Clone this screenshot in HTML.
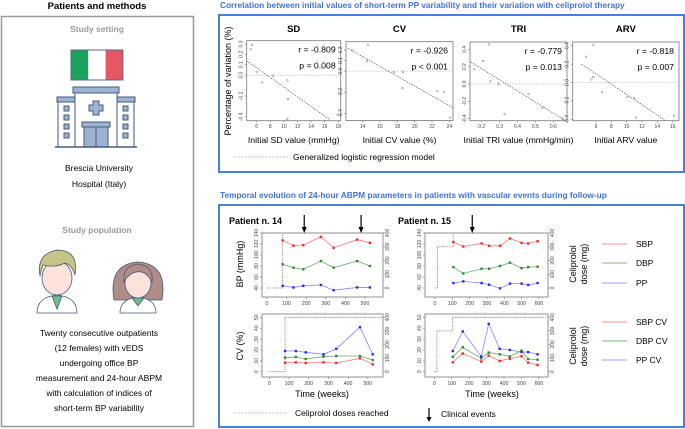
<!DOCTYPE html>
<html><head><meta charset="utf-8"><style>
html,body{margin:0;padding:0;background:#fff}
svg{display:block;font-family:"Liberation Sans",sans-serif}
</style></head><body>
<svg id="chart" width="685" height="429" viewBox="0 0 685 429">
<!-- LEFT PANEL -->
<g>
<text x="97" y="9" font-size="9.5" font-weight="bold" text-anchor="middle">Patients and methods</text>
<rect x="1.5" y="16.5" width="192" height="410" fill="none" stroke="#999" stroke-width="1.5"/>
<text x="97" y="32" font-size="8.5" font-weight="bold" fill="#999" text-anchor="middle">Study setting</text>
<g>
<rect x="71" y="50" width="17.3" height="30" fill="#1aa35e"/><rect x="88.3" y="50" width="17.3" height="30" fill="#fff"/><rect x="105.6" y="50" width="17.3" height="30" fill="#e85565"/>
<rect x="71" y="50" width="51.9" height="30" fill="none" stroke="#556a85" stroke-width="1"/></g>
<g stroke="#475a78" stroke-width="1">
<rect x="73" y="87" width="46" height="6" fill="#9cb3d4"/>
<rect x="57" y="97" width="78" height="5" fill="#9cb3d4"/>
<rect x="58" y="102" width="17" height="45" fill="#fff"/><rect x="117" y="102" width="17" height="45" fill="#fff"/>
<rect x="75" y="93" width="42" height="54" fill="#fff"/>
<path d="M93 101h6v4h4v6h-4v4h-6v-4h-4v-6h4z" fill="#9cb3d4"/>
<rect x="82" y="122" width="28" height="5" fill="#9cb3d4"/><rect x="84" y="127" width="24" height="20" fill="#9cb3d4"/><line x1="96" y1="127" x2="96" y2="147"/>
<rect x="64" y="106" width="5" height="5" fill="#9cb3d4"/><rect x="64" y="115" width="5" height="5" fill="#9cb3d4"/><rect x="64" y="124" width="5" height="5" fill="#9cb3d4"/><rect x="64" y="133" width="5" height="5" fill="#9cb3d4"/>
<rect x="123" y="106" width="5" height="5" fill="#9cb3d4"/><rect x="123" y="115" width="5" height="5" fill="#9cb3d4"/><rect x="123" y="124" width="5" height="5" fill="#9cb3d4"/><rect x="123" y="133" width="5" height="5" fill="#9cb3d4"/>
<line x1="55" y1="147" x2="137" y2="147" stroke-width="1.5"/></g>
<text x="99" y="171" font-size="8.5" text-anchor="middle">Brescia University</text>
<text x="99" y="187" font-size="8.5" text-anchor="middle">Hospital (Italy)</text>
<text x="97" y="233" font-size="8.5" font-weight="bold" fill="#999" text-anchor="middle">Study population</text>
<g stroke="#475a78" stroke-width="0.8">
<path d="M37 313 q0-16 20-18 q20 2 20 18z" fill="#fff"/><path d="M52 296 l5 13 l5-13z" fill="#6fbf8e"/>
<ellipse cx="57" cy="278" rx="15" ry="17" fill="#fbe3dc"/>
<path d="M40 276 q-4-22 17-26 q22 0 18 25 q-3-10-10-12 q-10 5-22 2 q-2 5-3 11z" fill="#c6c487"/></g>
<g stroke="#475a78" stroke-width="0.8">
<path d="M114 300 q-6-36 24-38 q30 2 24 38z" fill="#b08c86"/>
<path d="M120 313 q0-14 18-16 q18 2 18 16z" fill="#fff"/><path d="M132 298 l6 8 l6-8z" fill="#6fbf8e"/>
<ellipse cx="138" cy="283" rx="13" ry="15" fill="#fbe3dc"/>
<path d="M124 282 q-2-16 14-18 q16 2 14 18 q-6-12-16-10 q-8 2-12 10z" fill="#b08c86"/></g>
<g font-size="8.5" text-anchor="middle">
<text x="99" y="336">Twenty consecutive outpatients</text>
<text x="99" y="351">(12 females)  with vEDS</text>
<text x="99" y="366">undergoing office BP</text>
<text x="99" y="381">measurement and 24-hour ABPM</text>
<text x="99" y="396">with calculation of indices of</text>
<text x="99" y="411">short-term BP variability</text></g>
</g>
<!-- TOP RIGHT -->
<text x="220" y="8" font-size="8.3" font-weight="bold" fill="#3f74d4">Correlation between initial values of short-term PP variability and their variation with celiprolol therapy</text>
<rect x="219" y="15" width="465" height="157" fill="none" stroke="#4a7fd8" stroke-width="2"/>
<text transform="translate(231,81) rotate(-90)" font-size="9" text-anchor="middle">Percentage of variation (%)</text>
<line x1="234" y1="157" x2="288" y2="157" stroke="#aaa" stroke-width="0.8" stroke-dasharray="2,1.5"/>
<text x="293" y="160" font-size="8.5">Generalized logistic regression model</text>
<!-- BOTTOM RIGHT -->
<text x="220" y="198" font-size="8.3" font-weight="bold" fill="#3f74d4">Temporal evolution of 24-hour ABPM parameters in patients with vascular events during follow-up</text>
<rect x="219" y="205" width="465" height="222" fill="none" stroke="#4a7fd8" stroke-width="2"/>
<text x="229" y="224" font-size="9" font-weight="bold">Patient n. 14</text>
<text x="398" y="224" font-size="9" font-weight="bold">Patient n. 15</text>
<text transform="translate(243,264) rotate(-90)" font-size="9" text-anchor="middle">BP (mmHg)</text>
<text transform="translate(243,346) rotate(-90)" font-size="9" text-anchor="middle">CV (%)</text>
<g font-size="9" text-anchor="middle"><text transform="translate(576,264) rotate(-90)">Celiprolol</text><text transform="translate(587,264) rotate(-90)">dose (mg)</text></g>
<g font-size="9" text-anchor="middle"><text transform="translate(576,346) rotate(-90)">Celiprolol</text><text transform="translate(587,346) rotate(-90)">dose (mg)</text></g>
<text x="322" y="397" font-size="9" text-anchor="middle">Time (weeks)</text>
<text x="492" y="397" font-size="9" text-anchor="middle">Time (weeks)</text>
<g font-size="8.5">
<line x1="602" y1="244" x2="627" y2="244" stroke="#f88" stroke-width="1"/><text x="636" y="247">SBP</text>
<line x1="602" y1="263" x2="627" y2="263" stroke="#7b7" stroke-width="1"/><text x="636" y="266">DBP</text>
<line x1="602" y1="283" x2="627" y2="283" stroke="#99f" stroke-width="1"/><text x="636" y="286">PP</text>
<line x1="602" y1="322" x2="627" y2="322" stroke="#f88" stroke-width="1"/><text x="636" y="325">SBP CV</text>
<line x1="602" y1="341" x2="627" y2="341" stroke="#7b7" stroke-width="1"/><text x="636" y="344">DBP CV</text>
<line x1="602" y1="360" x2="627" y2="360" stroke="#99f" stroke-width="1"/><text x="636" y="363">PP CV</text></g>
<line x1="234" y1="413" x2="287" y2="413" stroke="#aaa" stroke-width="0.8" stroke-dasharray="2,1.5"/>
<text x="295" y="416" font-size="8.5">Celiprolol doses reached</text>
<g><line x1="429" y1="408" x2="429" y2="419" stroke="#000" stroke-width="1.2"/><path d="M426.5 417 L429 422 L431.5 417z"/></g>
<text x="441" y="417" font-size="8.5">Clinical events</text>
</svg>
<script>
// ===== Scatter data =====
const sdX=[5.1,5.3,6.0,6.8,8.4,10.5,10.6,10.5,17.9];
const sdY=[0.25,0.29,0.03,-0.07,-0.005,-0.05,-0.23,-0.42,-0.38];
const sdFitX=[4.5,16.8], sdFitY=[0.14,-0.43];
const sdXTicks=[6,8,10,12,14,16,18], sdYTicks=[0.3,0.2,0.1,0.0,-0.2,-0.4];
const cvX=[12.8,14.6,14.5,17.6,18.65,18.6,22.6,23.4,24.1];
const cvY=[0.2,0.25,0.095,-0.01,-0.01,-0.16,-0.19,-0.2,-0.44];
const cvFitX=[12.3,24.5], cvFitY=[0.216,-0.35];
const cvXTicks=[14,16,18,20,22,24], cvYTicks=[0.2,0.1,0.0,-0.2,-0.4];
const triX=[0.159,0.207,0.241,0.248,0.293,0.328,0.462,0.54,0.652];
const triY=[0.17,0.265,0.457,0.03,0.004,-0.346,-0.115,-0.277,-0.4];
const triFitX=[0.139,0.665], triFitY=[0.254,-0.42];
const triXTicks=[0.2,0.3,0.4,0.5,0.6], triYTicks=[0.4,0.2,0.0,-0.2,-0.4];
const arvX=[4.7,5.65,5.4,5.65,6.8,10.1,11.0,11.2,16.2];
const arvY=[0.28,0.41,0.034,0.06,-0.107,-0.16,-0.17,-0.38,-0.36];
const arvFitX=[4.1,15.0], arvFitY=[0.2,-0.41];
const arvXTicks=[6,8,10,12,14,16], arvYTicks=[0.4,0.2,0.0,-0.2,-0.4];
const corrR=['r = -0.809','r = -0.926','r = -0.779','r = -0.818'];
const corrP=['p = 0.008','p < 0.001','p = 0.013','p = 0.007'];
// ===== Time series data =====
const p14Time=[80,135,185,275,340,460,525];
const p14SBP=[126.5,117,118,133,113,128,122];
const p14DBP=[83,77,74,89,77,89,80];
const p14PP=[44,41,44,45.5,36,41,41];
const p14SBPCV=[8.3,8.6,8,8.6,8,12.3,6.7];
const p14DBPCV=[12.9,13.5,11.7,13.8,14.4,14.4,10.7];
const p14PPCV=[19,19,17.8,16,21,41,16];
const p14DoseT=[0,80,570];
const p14DoseV=[0,400,400];
const p14Events=[190,480];
const p15Time=[106,163,269,312,375,433,500,538,592];
const p15SBP=[123.4,115.5,121,116.7,116.7,130,122,121,125];
const p15DBP=[78,66.4,75,75,80,86,76,78,78.7];
const p15PP=[49,52,49,46,39.4,48,48,45.5,49];
const p15SBPCV=[8.6,16.7,9.3,14.8,9.9,12,14.2,8.3,6.2];
const p15DBPCV=[13.6,22.5,12.3,17.6,16,14,19.4,11.7,11];
const p15PPCV=[19,37,14,44,21,20,18,18,16];
const p15DoseT=[0,15,105,640];
const p15DoseV=[0,300,400,400];
const p15Events=[215];
const bpTicks=[40,60,80,100,120,140], cvTicks=[0,10,20,30,40,50], doseTicks=[0,100,200,300,400];
const p14XTicks=[0,100,200,300,400,500], p15XTicks=[0,100,200,300,400,500,600];

const NS='http://www.w3.org/2000/svg';
const svg=document.getElementById('chart');
function mk(tag,attrs,parent){const e=document.createElementNS(NS,tag);for(const k in attrs)e.setAttribute(k,attrs[k]);(parent||svg).appendChild(e);return e;}
function fmt(v){return Math.abs(v)<1e-9?'0.0':(Number.isInteger(v*10)&&Math.abs(v)<1?v.toFixed(1):String(v));}

function scatter(name,box,x0,xPx0,xK,y0,yPx0,yK,xs,ys,fx,fy,xt,yt,title,xlabel,r,p){
  const X=v=>xPx0+(v-x0)*xK, Y=v=>yPx0+(y0-v)*yK;
  const g=mk('g',{});
  
  
  const fr=mk('rect',{x:box[0],y:box[1],width:box[2]-box[0],height:box[3]-box[1],fill:'none',stroke:'#777','stroke-width':0.8},g);
  
  
  const t=mk('text',{x:(box[0]+box[2])/2,y:32,'font-size':9.5,'font-weight':'bold','text-anchor':'middle'},g);t.textContent=title;
  
  
  const xl=mk('text',{x:(box[0]+box[2])/2,y:143,'font-size':8.7,'text-anchor':'middle'},g);xl.textContent=xlabel;
  
  
  const z=mk('line',{x1:box[0],x2:box[2],y1:Y(0),y2:Y(0),stroke:'#ccc','stroke-width':0.8,'stroke-dasharray':'2,1'},g);
  
  
  xt.forEach(v=>{const x=X(v);mk('line',{x1:x,x2:x,y1:box[3],y2:box[3]+2,stroke:'#777','stroke-width':0.6},g);
    const l=mk('text',{x:x,y:box[3]+7.5,'font-size':5,'text-anchor':'middle',fill:'#444'},g);l.textContent=String(v);
    
    });
  yt.forEach(v=>{const y=Y(v);mk('line',{x1:box[0]-2,x2:box[0],y1:y,y2:y,stroke:'#777','stroke-width':0.6},g);
    const l=mk('text',{transform:`translate(${box[0]-4},${y}) rotate(-90)`,'font-size':5,'text-anchor':'middle',fill:'#444'},g);l.textContent=fmt(v);
    
    });
  const fl=mk('line',{x1:X(fx[0]),y1:Y(fy[0]),x2:X(fx[1]),y2:Y(fy[1]),stroke:'#555','stroke-width':0.7,'stroke-dasharray':'1.5,1.2'},g);
  
  
  xs.forEach((v,i)=>{const c=mk('circle',{cx:X(v),cy:Y(ys[i]),r:0.9,fill:'none',stroke:'#777','stroke-width':0.5},g);
    
    });
  const rt=mk('text',{x:box[2]-5,y:box[1]+12,'font-size':8.7,'text-anchor':'end'},g);rt.textContent=r;
  
  
  const pt=mk('text',{x:box[2]-5,y:box[1]+28,'font-size':8.7,'text-anchor':'end'},g);pt.textContent=p;
  
  
}
scatter('sd',[246.7,40.7,340.7,120.7],6,256.7,6.8,0.3,44,104,sdX,sdY,sdFitX,sdFitY,sdXTicks,sdYTicks,'SD','Initial SD value (mmHg)',corrR[0],corrP[0]);
scatter('cv',[346,41.7,453,120.5],14,362.7,8.67,0.2,50,105.7,cvX,cvY,cvFitX,cvFitY,cvXTicks,cvYTicks,'CV','Initial CV value (%)',corrR[1],corrP[1]);
scatter('tri',[470,42,567,120.7],0.2,481.7,179,0.4,49.3,86.7,triX,triY,triFitX,triFitY,triXTicks,triYTicks,'TRI','Initial TRI value (mmHg/min)',corrR[2],corrP[2]);
scatter('arv',[572.7,42,679,120.7],8,611.3,7.67,0.4,45.7,92,arvX,arvY,arvFitX,arvFitY,arvXTicks,arvYTicks,'ARV','Initial ARV value',corrR[3],corrP[3]);

function tsPanel(name,box,xPx0,xK,xt,yTop,yBot,vTop,vBot,yt,times,series,doseT,doseV,events){
  const X=v=>xPx0+v*xK, Y=v=>yBot-(v-vBot)*(yBot-yTop)/(vTop-vBot), D=d=>yBot-d*(yBot-yTop)/400;
  const g=mk('g',{});
  
  
  const fr=mk('rect',{x:box[0],y:box[1],width:box[2]-box[0],height:box[3]-box[1],fill:'none',stroke:'#777','stroke-width':0.8},g);
  
  
  xt.forEach(v=>{const x=X(v);mk('line',{x1:x,x2:x,y1:box[3],y2:box[3]+2,stroke:'#777','stroke-width':0.6},g);
    const l=mk('text',{x:x,y:box[3]+8,'font-size':5.2,'text-anchor':'middle',fill:'#444'},g);l.textContent=String(v);
    
    });
  yt.forEach(v=>{const y=Y(v);mk('line',{x1:box[0]-2,x2:box[0],y1:y,y2:y,stroke:'#777','stroke-width':0.6},g);
    const l=mk('text',{transform:`translate(${box[0]-4},${y}) rotate(-90)`,'font-size':5,'text-anchor':'middle',fill:'#444'},g);l.textContent=String(v);
    
    });
  doseTicks.forEach(v=>{const y=D(v);mk('line',{x1:box[2],x2:box[2]+2,y1:y,y2:y,stroke:'#777','stroke-width':0.6},g);
    const l=mk('text',{transform:`translate(${box[2]+6},${y}) rotate(-90)`,'font-size':5,'text-anchor':'middle',fill:'#444'},g);l.textContent=String(v);
    
    });
  let d='M'+X(doseT[0])+' '+D(doseV[0]);
  for(let i=1;i<doseT.length;i++){d+=' L'+X(doseT[i])+' '+D(doseV[i-1])+' L'+X(doseT[i])+' '+D(doseV[i]);}
  const dp=mk('path',{d:d,fill:'none',stroke:'#888','stroke-width':0.8,'stroke-dasharray':'1.5,1'},g);
  
  
  series.forEach(s=>{
    const pl=mk('polyline',{points:times.map((t,i)=>X(t)+','+Y(s.v[i])).join(' '),fill:'none',stroke:s.lc,'stroke-width':0.8},g);
    
    
    times.forEach((t,i)=>{const r=mk('rect',{x:X(t)-1.2,y:Y(s.v[i])-1.2,width:2.4,height:2.4,fill:s.pc},g);
      
      });
  });
  (events||[]).forEach(t=>{const x=X(t);const a=mk('g',{},g);
    
    
    mk('line',{x1:x,x2:x,y1:215,y2:229,stroke:'#000','stroke-width':1.2},a);
    mk('path',{d:`M${x-2.5} 227 L${x} 233 L${x+2.5} 227z`},a);});
}
const R='#ee2a2a',G='#2e8b2e',B='#2a2aee',RL='#f77',GL='#6a6',BL='#88f';
tsPanel('p14-bp',[262,233,383,297],267,0.196,p14XTicks,233,288,140,40,bpTicks,p14Time,
  [{n:'sbp',v:p14SBP,pc:R,lc:RL},{n:'dbp',v:p14DBP,pc:G,lc:GL},{n:'pp',v:p14PP,pc:B,lc:BL}],p14DoseT,p14DoseV,p14Events);
tsPanel('p15-bp',[425,233,548,297],435,0.1733,p15XTicks,233,288,140,40,bpTicks,p15Time,
  [{n:'sbp',v:p15SBP,pc:R,lc:RL},{n:'dbp',v:p15DBP,pc:G,lc:GL},{n:'pp',v:p15PP,pc:B,lc:BL}],p15DoseT,p15DoseV,p15Events);
tsPanel('p14-cv',[262,314,383,377],269.3,0.197,p14XTicks,317.3,371.7,50,0,cvTicks,p14Time,
  [{n:'sbp-cv',v:p14SBPCV,pc:R,lc:RL},{n:'dbp-cv',v:p14DBPCV,pc:G,lc:GL},{n:'pp-cv',v:p14PPCV,pc:B,lc:BL}],p14DoseT,p14DoseV,[]);
tsPanel('p15-cv',[425,314,548,377],434.3,0.1744,p15XTicks,317.3,371.7,50,0,cvTicks,p15Time,
  [{n:'sbp-cv',v:p15SBPCV,pc:R,lc:RL},{n:'dbp-cv',v:p15DBPCV,pc:G,lc:GL},{n:'pp-cv',v:p15PPCV,pc:B,lc:BL}],p15DoseT,p15DoseV,[]);
</script>
</body></html>
